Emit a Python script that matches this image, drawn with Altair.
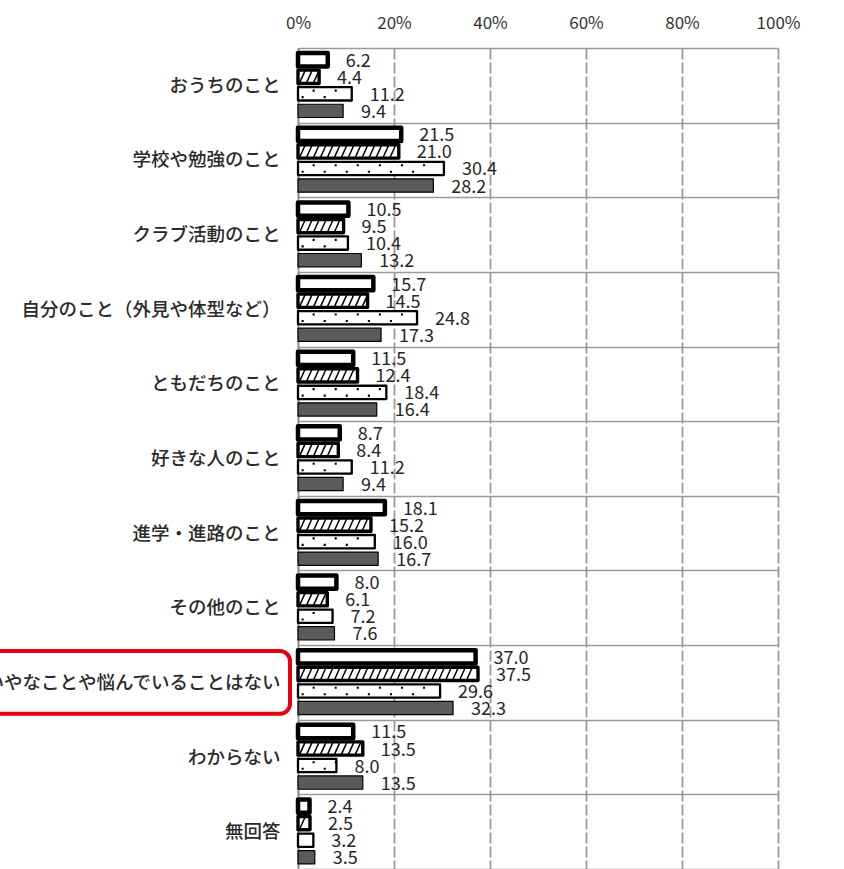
import altair as alt
import pandas as pd

categories = [
    "おうちのこと",
    "学校や勉強のこと",
    "クラブ活動のこと",
    "自分のこと（外見や体型など）",
    "ともだちのこと",
    "好きな人のこと",
    "進学・進路のこと",
    "その他のこと",
    "特にいやなことや悩んでいることはない",
    "わからない",
    "無回答",
]
series = ["系列1", "系列2", "系列3", "系列4"]
s1 = [6.2, 21.5, 10.5, 15.7, 11.5, 8.7, 18.1, 8.0, 37.0, 11.5, 2.4]
s2 = [4.4, 21.0, 9.5, 14.5, 12.4, 8.4, 15.2, 6.1, 37.5, 13.5, 2.5]
s3 = [11.2, 30.4, 10.4, 24.8, 18.4, 11.2, 16.0, 7.2, 29.6, 8.0, 3.2]
s4 = [9.4, 28.2, 13.2, 17.3, 16.4, 9.4, 16.7, 7.6, 32.3, 13.5, 3.5]
x_ticks = [0, 20, 40, 60, 80, 100]
highlight = ["特にいやなことや悩んでいることはない"]

rows = []
for name, vals in zip(series, [s1, s2, s3, s4]):
    for c, v in zip(categories, vals):
        rows.append({"category": c, "series": name, "value": v})
df = pd.DataFrame(rows)

xscale = alt.Scale(domain=[0, 100], nice=False, zero=True)
xaxis = alt.Axis(
    orient="top", title=None, values=x_ticks, labelExpr="datum.value + '%'",
    domain=False, ticks=False, grid=True, gridDash=[11, 3], gridColor="#9a9a9a",
    gridWidth=1.8, labelFontSize=17, labelColor="#333333", labelPadding=16,
    labelFlush=False,
)
y = alt.Y(
    "category:N", sort=categories,
    scale=alt.Scale(domain=categories, paddingInner=0, paddingOuter=0),
    axis=alt.Axis(
        title=None, orient="left", ticks=False, domain=True, domainColor="#8c8c8c",
        domainWidth=1.5, grid=True, gridColor="#9a9a9a", gridWidth=1.5,
        tickBand="extent", labelFontSize=18.5, labelFontWeight=500,
        labelColor="#2a2a2a", labelPadding=18, labelLimit=900,
    ),
)
yoff = alt.YOffset("series:N", scale=alt.Scale(domain=series, paddingInner=0.22, paddingOuter=0.3))

base = alt.Chart(df)

bars = base.mark_bar(stroke="black", strokeJoin="round").encode(
    x=alt.X("value:Q", scale=xscale, axis=xaxis),
    y=y,
    yOffset=yoff,
    fill=alt.Fill("series:N", scale=alt.Scale(domain=series, range=["white", "white", "white", "#5b5b5b"]), legend=None),
    strokeWidth=alt.StrokeWidth("series:O", scale=alt.Scale(domain=series, range=[4.5, 1.2, 1.2, 1.2]), legend=None),
)

hatch = (
    base.transform_filter(alt.datum.series == "系列2")
    .transform_calculate(hx="sequence(0.9, datum.value - 0.5, 1.45)")
    .transform_flatten(["hx"])
    .mark_point(shape="M-0.45,1L0.45,-1", size=150, filled=False, stroke="black", strokeWidth=1.5, opacity=1)
    .encode(x=alt.X("hx:Q", scale=xscale, axis=xaxis), y=y, yOffset=yoff)
)

dots = (
    base.transform_filter(alt.datum.series == "系列3")
    .transform_calculate(px="sequence(2.1, datum.value - 1.2, 4.6)")
    .transform_flatten(["px"])
    .mark_point(
        shape="M-0.59,0.2h0.19v0.19h-0.19Z M0.41,-0.39h0.19v0.19h-0.19Z",
        size=484, filled=True, fill="black", strokeWidth=0, opacity=1,
    )
    .encode(x=alt.X("px:Q", scale=xscale, axis=xaxis), y=y, yOffset=yoff)
)

labels = base.mark_text(
    align="left", baseline="middle", dx=18, dy=2, fontSize=18, color="#262626"
).encode(
    x=alt.X("value:Q", scale=xscale, axis=xaxis),
    y=y, yOffset=yoff,
    text=alt.Text("value:Q", format=".1f"),
)

box = alt.Chart(pd.DataFrame({"category": highlight})).mark_rect(
    height={"band": 0.84}, stroke="#e8000b", strokeWidth=4, fill="white",
    fillOpacity=0, cornerRadius=10,
).encode(y=y, x=alt.value(-340), x2=alt.value(-8))

chart = (
    alt.layer(bars, hatch, dots, labels, box)
    .properties(
        width=480, height=821,
        padding={"left": 298, "right": 66, "top": 48, "bottom": 0},
        autosize=alt.AutoSizeParams(type="none"),
    )
    .configure(font="Noto Sans CJK JP")
    .configure_view(stroke=None)
)

chart.save("out.html", embed_options={"renderer": "svg", "actions": False})
